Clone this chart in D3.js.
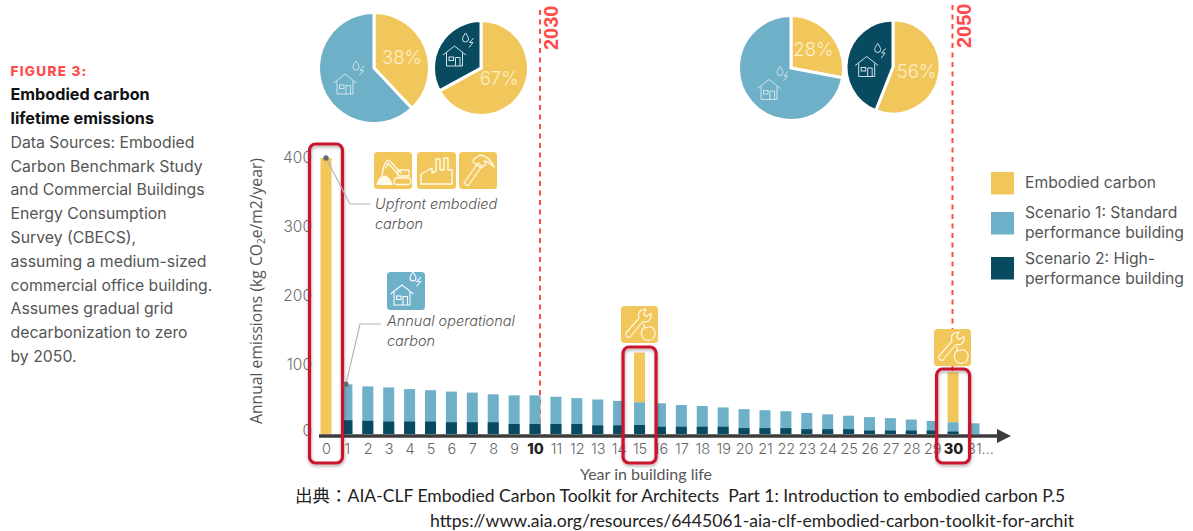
<!DOCTYPE html>
<html>
<head>
<meta charset="utf-8">
<script src="https://cdn.jsdelivr.net/npm/d3@7/dist/d3.min.js"></script>
<style>
  html, body { margin: 0; padding: 0; background: #fff; }
  svg { display: block; }
  text { font-family: Inter, "Noto Sans", sans-serif; }
</style>
</head>
<body>
<svg id="chart" width="1193" height="531"></svg>
<script>
// Building-life years on the horizontal axis
const years = d3.range(0, 32);
const yearLabels = years.map(d => d === 31 ? "31..." : String(d));
const boldYears = [10, 30];
const emissionTicks = [0, 100, 200, 300, 400];

// Annual emissions, kg CO2e/m2/year
const scenario1 = [0, 72, 69, 67.5, 65, 63.5, 61.5, 60, 57.5, 56, 56, 54, 52, 50, 48, 46,
                   44.5, 42, 40.5, 38.5, 36, 34.5, 33, 30.5, 28.5, 26.5, 24.5, 23, 21, 19, 17, 15.5];
const scenario2 = [0, 20, 19, 18, 18, 18, 17, 17, 17, 14.5, 14.5, 14.5, 14.5, 12.5, 12.5, 13,
                   10.5, 10.5, 10.5, 10.5, 8.5, 8.5, 8.5, 7, 7, 7, 5, 5, 5, 5, 3.5, 0];
const embodied = { 0: 400, 15: 72, 30: 72.5 };

// Embodied carbon share at the two milestones, for each scenario
const pieShares = [38, 67, 28, 56];
const pieOperationalColors = ["#6fb0c9", "#084a60", "#6fb0c9", "#084a60"];
const pieCenters = [[374, 68], [481, 68], [791, 68], [893, 67]];
const pieRadii = [55.5, 47.5, 52.5, 47];
const pieLabelRadii = [30, 21, 29, 24];
const pieHouses = [[345, 82], [454.5, 54], [769, 87.5], [866.7, 64.5]];

const legendItems = [
  { color: "#f1c75b", lines: ["Embodied carbon"], y: 172, ys: [182] },
  { color: "#6fb0c9", lines: ["Scenario 1: Standard", "performance building"], y: 212, ys: [212, 232] },
  { color: "#084a60", lines: ["Scenario 2: High-", "performance building"], y: 257, ys: [258, 278] }
];
const sideNote = [
  "Data Sources: Embodied", "Carbon Benchmark Study", "and Commercial Buildings",
  "Energy Consumption", "Survey (CBECS),", "assuming a medium-sized",
  "commercial office building.", "Assumes gradual grid", "decarbonization to zero", "by 2050."
];
const milestones = [
  { year: 2030, x: 540, y1: 10, y2: 434, labelX: 558, labelY: 50 },
  { year: 2050, x: 952.5, y1: 5, y2: 372, labelX: 971, labelY: 48 }
];

const YELLOW = "#f1c75b", BLUE = "#6fb0c9", NAVY = "#084a60", RED = "#ff4b4b", CRIMSON = "#c9182f";

const svg = d3.select("#chart");
const defs = svg.append("defs");
const shadow = defs.append("filter").attr("id", "soft-shadow")
  .attr("x", "-30%").attr("y", "-10%").attr("width", "160%").attr("height", "120%");
shadow.append("feDropShadow").attr("dx", 0.5).attr("dy", 2).attr("stdDeviation", 1.6)
  .attr("flood-color", "#000").attr("flood-opacity", 0.3);

const x = d3.scaleLinear().domain([0, 31]).range([326, 974]);
const y = d3.scaleLinear().domain([0, 400]).range([434, 158]);
const BAR = 11;

// Side note
const side = svg.append("g");
side.append("text").attr("x", 10.5).attr("y", 76).text("FIGURE 3:")
  .attr("fill", RED).attr("font-size", 13.5).attr("font-weight", 800).attr("letter-spacing", 1.3);
[["Embodied carbon", 100], ["lifetime emissions", 124]].forEach(([t, yy]) =>
  side.append("text").attr("x", 10.5).attr("y", yy).text(t)
    .attr("fill", "#111").attr("font-size", 16.2).attr("font-weight", 700));
side.selectAll("text.note").data(sideNote).join("text").attr("class", "note")
  .attr("x", 10.5).attr("y", (d, i) => 147.7 + i * 23.8).text(d => d)
  .attr("fill", "#555").attr("font-size", 15.8).attr("font-weight", 400);

// Milestone markers
const ms = svg.append("g");
ms.selectAll("line").data(milestones).join("line")
  .attr("x1", d => d.x).attr("x2", d => d.x).attr("y1", d => d.y1).attr("y2", d => d.y2)
  .attr("stroke", RED).attr("stroke-width", 2).attr("stroke-dasharray", "5 4.5");
ms.selectAll("text").data(milestones).join("text")
  .attr("transform", d => `translate(${d.labelX},${d.labelY}) rotate(-90)`)
  .text(d => d.year).attr("fill", RED).attr("font-size", 20).attr("font-weight", 700)
  .style("font-family", "'Liberation Sans', sans-serif");

// Bars, layered from the back: embodied on top of Scenario 1, then Scenario 2
const bars = svg.append("g");
bars.selectAll("rect.emb").data(years.filter(d => embodied[d])).join("rect").attr("class", "emb")
  .attr("x", d => x(d) - BAR / 2).attr("width", BAR)
  .attr("y", d => y(scenario1[d] + embodied[d]))
  .attr("height", d => y(scenario1[d]) - y(scenario1[d] + embodied[d]))
  .attr("fill", YELLOW);
bars.selectAll("rect.s1").data(years).join("rect").attr("class", "s1")
  .attr("x", d => x(d) - BAR / 2).attr("width", BAR)
  .attr("y", d => y(scenario1[d])).attr("height", d => y(0) - y(scenario1[d]))
  .attr("fill", BLUE);
bars.selectAll("rect.s2").data(years).join("rect").attr("class", "s2")
  .attr("x", d => x(d) - BAR / 2).attr("width", BAR)
  .attr("y", d => y(scenario2[d])).attr("height", d => y(0) - y(scenario2[d]))
  .attr("fill", NAVY);

// Vertical axis
const yAxis = svg.append("g").attr("transform", "translate(312,0)")
  .call(d3.axisLeft(y).tickValues(emissionTicks).tickSize(0).tickPadding(0));
yAxis.select(".domain").remove();
yAxis.selectAll("text").attr("fill", "#6d6d6d").attr("font-size", 15.5).attr("font-weight", 300)
  .style("font-family", "Inter, sans-serif")
  .attr("dy", d => d === 0 ? "0.1em" : "0.32em");

svg.append("text").attr("transform", "translate(262,291) rotate(-90)")
  .attr("text-anchor", "middle").attr("fill", "#555").attr("font-size", 15.7)
  .style("font-family", "'Open Sans', sans-serif")
  .call(t => {
    t.append("tspan").text("Annual emissions (kg CO");
    t.append("tspan").text("2").attr("font-size", 10).attr("dy", 3);
    t.append("tspan").text("e/m2/year)").attr("dy", -3);
  });

// Horizontal axis with arrowhead
const axisLine = svg.append("g");
axisLine.append("line").attr("x1", x(0) - 7).attr("x2", 1000).attr("y1", y(0) + 2).attr("y2", y(0) + 2)
  .attr("stroke", "#3c3c3c").attr("stroke-width", 3.5);
axisLine.append("path").attr("fill", "#3c3c3c")
  .attr("d", d3.line()([[997, y(0) - 5], [1011, y(0) + 2], [997, y(0) + 9]]) + "Z");

const xAxis = svg.append("g").attr("transform", "translate(0,441)")
  .call(d3.axisBottom(x).tickValues(years).tickFormat(d => yearLabels[d]).tickSize(0).tickPadding(0));
xAxis.select(".domain").remove();
xAxis.selectAll("text")
  .attr("dy", "0.9em").attr("dx", d => d === 31 ? 6 : 0)
  .attr("font-size", 14.5)
  .style("font-family", "Inter, sans-serif")
  .attr("font-weight", d => boldYears.includes(d) ? 800 : 300)
  .attr("fill", d => boldYears.includes(d) ? "#222" : "#666");

svg.append("text").attr("x", 646).attr("y", 480).attr("text-anchor", "middle")
  .attr("fill", "#555").attr("font-size", 16).text("Year in building life")
  .style("font-family", "Lato, sans-serif");

// Highlight frames around replacement and construction years
const frames = [{ year: 0, top: 144 }, { year: 15, top: 347 }, { year: 30, top: 369 }];
svg.append("g").selectAll("rect").data(frames).join("rect")
  .attr("x", d => x(d.year) - 16.5).attr("width", 33)
  .attr("y", d => d.top).attr("height", d => 463 - d.top)
  .attr("rx", 6).attr("fill", "none")
  .attr("stroke", CRIMSON).attr("stroke-width", 3.2)
  .attr("filter", "url(#soft-shadow)");

// Leader lines for the two annotations
const notes = svg.append("g");
const leader = d3.line();
notes.append("path").attr("d", leader([[x(0), y(400)], [350, 204], [370, 204]]))
  .attr("fill", "none").attr("stroke", "#b5b5b5").attr("stroke-width", 1.2);
notes.append("path").attr("d", leader([[x(1) - 1, y(scenario1[1])], [360, 324], [381, 324]]))
  .attr("fill", "none").attr("stroke", "#b5b5b5").attr("stroke-width", 1.2);
notes.append("circle").attr("cx", x(0)).attr("cy", y(400)).attr("r", 2.7).attr("fill", "#6a6a6a");
notes.append("circle").attr("cx", x(1) - 1).attr("cy", y(scenario1[1])).attr("r", 2.7).attr("fill", "#6a6a6a");
[["Upfront embodied", 375, 209], ["carbon", 375, 229], ["Annual operational", 387, 326], ["carbon", 387, 346]]
  .forEach(([t, tx, ty]) => notes.append("text").attr("x", tx).attr("y", ty).text(t)
    .attr("fill", "#555").attr("font-size", 14.5).attr("font-style", "italic").attr("font-weight", 300));

// Line icons
function house(g, cx, cy, color, w) {
  const h = g.append("g").attr("transform", `translate(${cx},${cy})`)
    .attr("fill", "none").attr("stroke", color).attr("stroke-width", w);
  h.append("path").attr("d", "M-11.5,1 L0,-8 L11.5,1");
  h.append("path").attr("d", "M-8,-1 V12 H8 V-1");
  h.append("path").attr("d", "M1,12 V3.5 H5.5 V12");
  h.append("rect").attr("x", -5.5).attr("y", 3).attr("width", 4.5).attr("height", 3.5);
  h.append("path").attr("d", "M11,-21 C8.5,-17.5 8,-16 8,-15 A3,3 0 0 0 14,-15 C14,-16 13.5,-17.5 11,-21 Z");
  h.append("path").attr("d", "M19,-16 L15,-11.5 H18.5 L14.5,-6.5");
}
function tile(x0, y0, w, h, color) {
  const g = svg.append("g").attr("transform", `translate(${x0},${y0})`);
  g.append("rect").attr("width", w).attr("height", h).attr("rx", 3.5).attr("fill", color);
  return g;
}
function outline(g, d, sw) {
  g.append("path").attr("d", d).attr("fill", "none").attr("stroke", "#fff9e8").attr("stroke-width", sw || 1.4)
    .attr("stroke-linejoin", "round").attr("stroke-linecap", "round");
}
const dig = tile(374, 152, 38, 37, YELLOW);
dig.append("path").attr("d", "M2.5,33 Q4,24 10,23.5 Q16,24 19,33 Z").attr("fill", "#fff9e8");
outline(dig, "M8,23 L10,14 L13,8 L16,9 L27,21 M12,16 L14,11 L24,22", 1.3);
outline(dig, "M24,18 H35 V24 H24 Z", 1.3);
dig.append("rect").attr("x", 20).attr("y", 26).attr("width", 17).attr("height", 6.5).attr("rx", 3.2)
  .attr("fill", "none").attr("stroke", "#fff9e8").attr("stroke-width", 1.3);

const fac = tile(417, 152, 39, 37, YELLOW);
outline(fac, "M4,32 V22 L15,16 V21 L19,19 V7 H23 V18 H27 V6 H31 V18 H35 V32 Z", 1.4);

const ham = tile(459, 152, 38, 37, YELLOW);
outline(ham, "M5,31 L19,11 L23,14 L9,34 Z", 1.3);
outline(ham, "M15,7 L21,3 Q30,4 35,15 Q29,9 25,9 L27,12 L22,16 L14,10 Z", 1.3);

const op = tile(387, 272, 38, 38, BLUE);
house(op, 15, 21, "#f3fafc", 1.1);

[[621, 306], [934, 329]].forEach(([tx, ty]) => {
  const w = tile(tx, ty, 37, 37, YELLOW);
  outline(w, "M5,27 L18,12 Q16,6 21,4 L25,3 L22.5,8 L25.5,10.5 L30,7.5 Q31,12 27.5,15 Q25,16.5 22,15.5 L9,31 Q4,32 5,27 Z", 1.15);
  outline(w, "M23.5,21.5 A7,7 0 1 0 28.5,20.5 M22.5,18 L23.5,22 L27.5,21", 1.15);
});

// Milestone pies
const pie = d3.pie().sort(null).startAngle(0).endAngle(2 * Math.PI);
pieShares.forEach((share, i) => {
  const [cx, cy] = pieCenters[i], r = pieRadii[i];
  const g = svg.append("g").attr("transform", `translate(${cx},${cy})`);
  const arc = d3.arc().innerRadius(0).outerRadius(r);
  const labelArc = d3.arc().innerRadius(pieLabelRadii[i]).outerRadius(pieLabelRadii[i]);
  const slices = pie([share, 100 - share]);
  g.selectAll("path").data(slices).join("path").attr("d", arc)
    .attr("fill", (d, j) => j === 0 ? YELLOW : pieOperationalColors[i])
    .attr("stroke", "#fff").attr("stroke-width", 3).attr("stroke-linejoin", "miter");
  g.append("text").attr("transform", `translate(${labelArc.centroid(slices[0])})`)
    .attr("text-anchor", "middle").attr("dy", "0.36em").text(share + "%")
    .attr("fill", "#fbeec9").attr("font-size", 18.5).attr("font-weight", 300);
  house(svg, pieHouses[i][0], pieHouses[i][1], "#cfe3ea", 1);
});

// Legend
const legend = svg.append("g");
legendItems.forEach(item => {
  legend.append("rect").attr("x", 991).attr("y", item.y).attr("width", 23).attr("height", 22.5).attr("fill", item.color);
  item.lines.forEach((t, i) => legend.append("text").attr("x", 1025).attr("y", item.ys[i]).attr("dy", "0.36em")
    .text(t).attr("fill", "#555").attr("font-size", 15.7));
});

// Source lines
const sourceFont = "Lato, 'Noto Sans CJK JP', sans-serif";
svg.append("text").attr("x", 295).attr("y", 502).attr("fill", "#222").attr("font-size", 17.55)
  .style("font-family", sourceFont).style("white-space", "pre")
  .text("出典：AIA-CLF Embodied Carbon Toolkit for Architects  Part 1: Introduction to embodied carbon P.5");
svg.append("text").attr("x", 430).attr("y", 527).attr("fill", "#222").attr("font-size", 17.6)
  .style("font-family", sourceFont)
  .text("https://www.aia.org/resources/6445061-aia-clf-embodied-carbon-toolkit-for-archit");
</script>
</body>
</html>
